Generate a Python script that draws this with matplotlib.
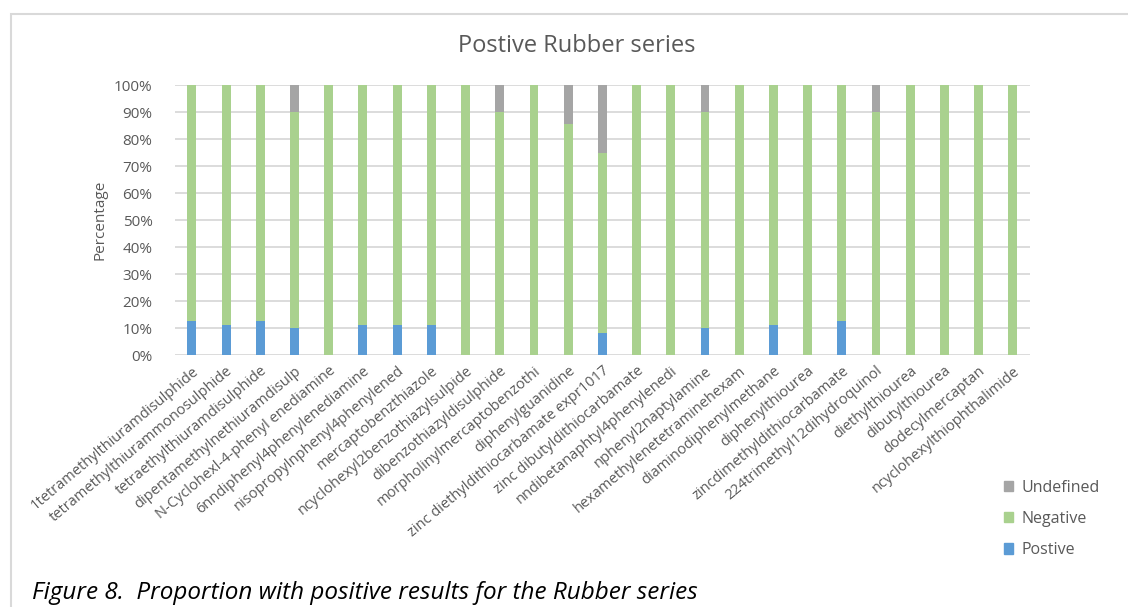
import numpy as np
import matplotlib
matplotlib.use('Agg')
import matplotlib.pyplot as plt
from matplotlib.patches import Rectangle, Patch
from matplotlib.ticker import PercentFormatter

compounds = ['1tetramethylthiuramdisulphide', 'tetramethylthiurammonosulphide',
             'tetraethylthiuramdisulphide', 'dipentamethylnethiuramdisulp',
             'N-Cyclohexl-4-phenyl enediamine', '6nndiphenyl4phenylenediamine',
             'nisopropylnphenyl4phenylened', 'mercaptobenzthiazole',
             'ncyclohexyl2benzothiazylsulpide', 'dibenzothiazyldisulphide',
             'morpholinylmercaptobenzothi', 'diphenylguanidine',
             'zinc diethyldithiocarbamate expr1017', 'zinc dibutyldithiocarbamate',
             'nndibetanaphtyl4phenylenedi', 'nphenyl2naptylamine',
             'hexamethylenetetraminehexam', 'diaminodiphenylmethane',
             'diphenylthiourea', 'zincdimethyldithiocarbamate',
             '224trimethyl12dihydroquinol', 'diethylthiourea', 'dibutylthiourea',
             'dodecylmercaptan', 'ncyclohexylthiophthalimide']

positive = [12.5, 11.1, 12.5, 10.0, 0, 11.1, 11.1, 11.1, 0, 0, 0, 0, 8.3, 0, 0,
            10.0, 0, 11.1, 0, 12.5, 0, 0, 0, 0, 0]
negative = [87.5, 88.9, 87.5, 80.0, 100, 88.9, 88.9, 88.9, 100, 90.0, 100, 85.7,
            66.7, 100, 100, 80.0, 100, 88.9, 100, 87.5, 90.0, 100, 100, 100, 100]
undefined = [0, 0, 0, 10.0, 0, 0, 0, 0, 0, 10.0, 0, 14.3, 25.0, 0, 0, 10.0, 0, 0,
             0, 0, 10.0, 0, 0, 0, 0]

blue, green, grey = '#5B9BD5', '#A9D18E', '#A5A5A5'
txt = '#595959'

plt.rcParams['font.family'] = ['Open Sans', 'DejaVu Sans']

fig = plt.figure(figsize=(11.28, 6.07), dpi=100)
ax = fig.add_axes([0.155, 0.415, 0.758, 0.4445])

x = np.arange(len(compounds))
pos = np.array(positive)
neg = np.array(negative)
und = np.array(undefined)
w = 0.26
ax.bar(x, pos, w, color=blue, zorder=3)
ax.bar(x, neg, w, bottom=pos, color=green, zorder=3)
ax.bar(x, und, w, bottom=pos + neg, color=grey, zorder=3)

ax.set_xlim(-0.5, len(compounds) - 0.5)
ax.set_ylim(0, 100)
ax.set_yticks(np.arange(0, 101, 10))
ax.yaxis.set_major_formatter(PercentFormatter(decimals=0))
ax.grid(axis='y', color='#D9D9D9', linewidth=1.3, zorder=0)
for s in ax.spines.values():
    s.set_visible(False)
ax.tick_params(axis='both', length=0, colors=txt, labelsize=11)
ax.tick_params(axis='y', pad=16)
ax.set_xticks(x)
ax.set_xticklabels(compounds, rotation=40, ha='right', rotation_mode='anchor',
                   fontsize=10.5, color=txt)
ax.tick_params(axis='x', pad=6)

ax.set_ylabel('Percentage', fontsize=11, color=txt, labelpad=5)
fig.text(0.511, 0.925, 'Postive Rubber series', fontsize=17, color=txt,
         ha='center', va='center')

handles = [Patch(color=grey, label='Undefined'),
           Patch(color=green, label='Negative'),
           Patch(color=blue, label='Postive')]
fig.legend(handles=handles, loc='center left', bbox_to_anchor=(0.877, 0.145),
           frameon=False, fontsize=11.5, labelcolor=txt, handlelength=0.6,
           handleheight=0.6, handletextpad=0.5, labelspacing=0.95)

# chart frame
fig.add_artist(Rectangle((11 / 1128, -0.05), 1.2, 1 - 14 / 607 + 0.05,
                         transform=fig.transFigure, fill=False,
                         edgecolor='#D9D9D9', linewidth=1.5))

fig.text(0.028, 0.013, 'Figure 8.  Proportion with positive results for the Rubber series',
         fontsize=17.5, style='italic', color='black')

fig.savefig('out.png', dpi=100)
